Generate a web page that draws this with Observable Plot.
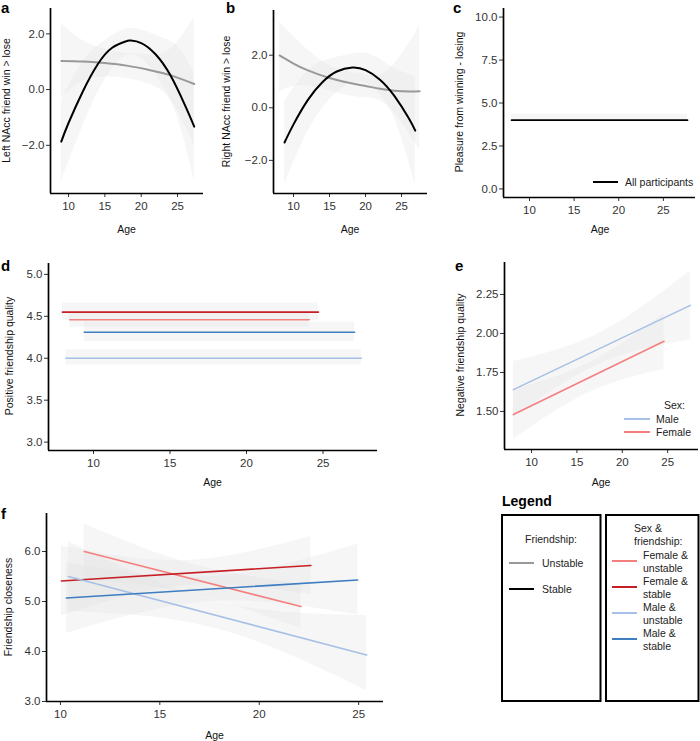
<!DOCTYPE html>
<html>
<head>
<meta charset="utf-8">
<script src="https://cdn.jsdelivr.net/npm/d3@7"></script>
<script src="https://cdn.jsdelivr.net/npm/@observablehq/plot@0.6"></script>
<style>
  html, body { margin: 0; padding: 0; background: #fff; }
  #fig { position: relative; width: 700px; height: 741px; overflow: hidden; background: #fff;
         font-family: 'Liberation Sans', Arial, Helvetica, sans-serif; }
</style>
</head>
<body>
<div id="fig"></div>
<script>
// ---------------- DATA ----------------
const xTicks = [10, 15, 20, 25];
const yTicksAB = [-2, 0, 2];
const yTicksC = [0, 2.5, 5, 7.5, 10];
const yTicksD = [3, 3.5, 4, 4.5, 5];
const yTicksE = [1.5, 1.75, 2, 2.25];
const yTicksF = [3, 4, 5, 6];

const friendshipNames = ["Unstable", "Stable"];
const friendshipColors = ["#999999", "#000000"];

// Panel a: Left NAcc friend win > lose
const ageA_stable = [9, 10, 12, 14, 16, 18, 18.5, 20, 22, 24, 26, 27.3];
const leftStable = [-1.87, -1.2, -0.05, 0.9, 1.5, 1.74, 1.76, 1.67, 1.26, 0.52, -0.55, -1.33];
const ageA_stableBand = [9, 12, 15, 18.5, 22, 25, 27.3];
const leftStableLo = [-3.3, -1.3, 0.35, 1.25, 0.55, -1.0, -3.3];
const leftStableHi = [-0.4, 1.0, 1.75, 2.2, 1.95, 1.55, 0.6];
const ageA_unstable = [9, 12, 15, 18, 21, 24, 27.3];
const leftUnstable = [1.03, 1.01, 0.95, 0.86, 0.71, 0.52, 0.2];
const ageA_unstableBand = [9, 12, 15, 18, 21, 24, 27.3];
const leftUnstableLo = [-0.3, 0.3, 0.45, 0.4, 0.2, -0.35, -2.0];
const leftUnstableHi = [2.37, 1.75, 1.45, 1.3, 1.25, 1.45, 2.6];

// Panel b: Right NAcc friend win > lose
const ageB_stable = [8.75, 10, 12, 14, 16, 18.2, 20, 22, 24, 26, 26.9];
const rightStable = [-1.32, -0.63, 0.3, 0.97, 1.38, 1.53, 1.43, 1.07, 0.45, -0.4, -0.87];
const ageB_stableBand = [8.75, 12, 15, 18.2, 21, 24, 26.9];
const rightStableLo = [-2.9, -0.9, 0.3, 0.95, 0.75, -0.4, -2.95];
const rightStableHi = [0.25, 1.4, 1.85, 2.05, 2.0, 1.5, 1.2];
const ageB_unstable = [8.05, 10, 12, 15, 18, 20, 22, 24, 26, 27.5];
const rightUnstable = [1.99, 1.68, 1.42, 1.13, 0.93, 0.83, 0.72, 0.65, 0.62, 0.63];
const ageB_unstableBand = [8.05, 11, 15, 19, 23, 27.5];
const rightUnstableLo = [0.6, 0.85, 0.65, 0.4, 0.1, -1.6];
const rightUnstableHi = [3.25, 2.45, 1.6, 1.3, 1.4, 3.1];

// Panel c: Pleasure from winning - losing
const ageC = [8.0, 27.7];
const pleasure = [4.0, 4.0];
const pleasureLo = [3.9, 3.9];
const pleasureHi = [4.35, 4.35];
const allLabel = "All participants";

// Groups (sex & friendship)
const groupNames = ["Female & unstable", "Female & stable", "Male & unstable", "Male & stable"];
const groupColors = ["#F3807F", "#C62026", "#A6C0E6", "#3D7DC0"];

// Panel d: Positive friendship quality (flat fits)
const posStart = [8.45, 7.97, 8.2, 9.4];
const posEnd = [24.1, 24.7, 27.5, 27.06];
const posValue = [4.46, 4.55, 4.00, 4.31];
const posLo = [4.37, 4.45, 3.92, 4.20];
const posHi = [4.56, 4.66, 4.10, 4.43];

// Panel e: Negative friendship quality by sex
const sexNames = ["Male", "Female"];
const sexColors = ["#A6C0E6", "#F3807F"];
const negMaleAge = [8.0, 27.5];
const negMale = [1.64, 2.18];
const negMaleBandAge = [8.0, 17.75, 27.5];
const negMaleLo = [1.46, 1.81, 1.96];
const negMaleHi = [1.82, 2.01, 2.40];
const negFemaleAge = [8.0, 24.6];
const negFemale = [1.48, 1.95];
const negFemaleBandAge = [8.0, 16.3, 24.6];
const negFemaleLo = [1.32, 1.62, 1.77];
const negFemaleHi = [1.64, 1.81, 2.13];

// Panel f: Friendship closeness by group
const closeStart = [11.2, 10.05, 10.4, 10.3];
const closeEnd = [22.1, 22.6, 25.4, 24.95];
const closeStartVal = [6.0, 5.41, 5.5, 5.07];
const closeEndVal = [4.9, 5.72, 3.93, 5.43];
const closeMidAge = [16.6, 16.3, 17.9, 17.6];
const closeLoStart = [5.45, 4.71, 4.8, 4.36];
const closeLoMid = [5.15, 5.32, 4.45, 5.0];
const closeLoEnd = [4.46, 5.14, 3.22, 4.73];
const closeHiStart = [6.55, 6.11, 6.2, 5.78];
const closeHiMid = [5.75, 5.82, 5.0, 5.5];
const closeHiEnd = [5.35, 6.3, 4.72, 6.15];

// ---------------- HELPERS ----------------
const FONT = "'Liberation Sans', Arial, Helvetica, sans-serif";
const BAND = "#e2e2e2", BAND_OP = 0.3;
const fig = document.getElementById("fig");
const pts = (xs, ys) => xs.map((x, i) => ({x, y: ys[i]}));
const band = (xs, lo, hi) => xs.map((x, i) => ({x, lo: lo[i], hi: hi[i]}));

function panel(frame, xd, yd, yTicks, yFmt, marks) {
  const [L, T, R, B] = frame;
  const mL = 48, mT = 8, mR = 6, mB = 24;
  const svg = Plot.plot({
    width: R - L + mL + mR, height: B - T + mT + mB,
    marginLeft: mL, marginTop: mT, marginRight: mR, marginBottom: mB,
    x: {domain: xd}, y: {domain: yd},
    style: {fontFamily: FONT, fontSize: "11.5px", color: "#333", background: "transparent", overflow: "visible"},
    marks: [
      ...marks,
      Plot.axisX({ticks: xTicks, tickSize: 4, tickPadding: 4, tickFormat: d3.format("d"), label: null}),
      Plot.axisY({ticks: yTicks, tickSize: 4, tickPadding: 2, tickFormat: d3.format(yFmt), label: null}),
      Plot.ruleX([xd[0]], {stroke: "#000", strokeWidth: 1.7}),
      Plot.ruleY([yd[0]], {stroke: "#000", strokeWidth: 1.7})
    ]
  });
  svg.style.position = "absolute";
  svg.style.left = (L - mL) + "px";
  svg.style.top = (T - mT) + "px";
  svg.style.maxWidth = "none";
  fig.appendChild(svg);
}

const area = (data) => Plot.areaY(data, {x: "x", y1: "lo", y2: "hi", fill: BAND, fillOpacity: BAND_OP, curve: "natural"});

// Panel a
panel([50, 8, 203, 193], [7.52, 28.57], [-3.73, 2.91], yTicksAB, ".1f", [
  area(band(ageA_unstableBand, leftUnstableLo, leftUnstableHi)),
  area(band(ageA_stableBand, leftStableLo, leftStableHi)),
  Plot.line(pts(ageA_unstable, leftUnstable), {x: "x", y: "y", stroke: friendshipColors[0], strokeWidth: 2, curve: "natural"}),
  Plot.line(pts(ageA_stable, leftStable), {x: "x", y: "y", stroke: friendshipColors[1], strokeWidth: 2, curve: "natural"})
]);

// Panel b
panel([273, 10, 427, 193], [7.22, 28.6], [-3.26, 3.70], yTicksAB, ".1f", [
  area(band(ageB_unstableBand, rightUnstableLo, rightUnstableHi)),
  area(band(ageB_stableBand, rightStableLo, rightStableHi)),
  Plot.line(pts(ageB_unstable, rightUnstable), {x: "x", y: "y", stroke: friendshipColors[0], strokeWidth: 2, curve: "natural"}),
  Plot.line(pts(ageB_stable, rightStable), {x: "x", y: "y", stroke: friendshipColors[1], strokeWidth: 2, curve: "natural"})
]);

// Panel c
panel([503, 8, 695, 197], [7.09, 28.6], [-0.5, 10.5], yTicksC, ".1f", [
  area(band(ageC, pleasureLo, pleasureHi)),
  Plot.line(pts(ageC, pleasure), {x: "x", y: "y", stroke: "#000", strokeWidth: 1.8})
]);

// Panel d
{
  const marks = [];
  groupNames.forEach((g, i) => {
    marks.push(area(band([posStart[i], posEnd[i]], [posLo[i], posLo[i]], [posHi[i], posHi[i]])));
  });
  groupNames.forEach((g, i) => {
    marks.push(Plot.line(pts([posStart[i], posEnd[i]], [posValue[i], posValue[i]]), {x: "x", y: "y", stroke: groupColors[i], strokeWidth: 1.6}));
  });
  panel([48, 263, 377, 450], [7.06, 28.56], [2.9, 5.13], yTicksD, ".1f", marks);
}

// Panel e
panel([504, 262, 698, 449], [7.02, 28.4], [1.256, 2.455], yTicksE, ".2f", [
  area(band(negMaleBandAge, negMaleLo, negMaleHi)),
  area(band(negFemaleBandAge, negFemaleLo, negFemaleHi)),
  Plot.line(pts(negMaleAge, negMale), {x: "x", y: "y", stroke: sexColors[0], strokeWidth: 1.6}),
  Plot.line(pts(negFemaleAge, negFemale), {x: "x", y: "y", stroke: sexColors[1], strokeWidth: 1.6})
]);

// Panel f
{
  const marks = [];
  groupNames.forEach((g, i) => {
    marks.push(area(band([closeStart[i], closeMidAge[i], closeEnd[i]],
      [closeLoStart[i], closeLoMid[i], closeLoEnd[i]], [closeHiStart[i], closeHiMid[i], closeHiEnd[i]])));
  });
  groupNames.forEach((g, i) => {
    marks.push(Plot.line(pts([closeStart[i], closeEnd[i]], [closeStartVal[i], closeEndVal[i]]), {x: "x", y: "y", stroke: groupColors[i], strokeWidth: 1.6}));
  });
  panel([46, 513, 383, 701], [9.3, 26.25], [3.0, 6.76], yTicksF, ".1f", marks);
}

// ---------------- TEXT OVERLAY ----------------
const ov = d3.select(fig).append("svg")
  .attr("width", 700).attr("height", 741)
  .style("position", "absolute").style("left", "0px").style("top", "0px")
  .style("font-family", FONT);

// panel letters
const letters = [["a", 1, 13], ["b", 226, 13], ["c", 453, 13], ["d", 1, 271], ["e", 455, 271], ["f", 1, 519]];
letters.forEach(([t, x, y]) => ov.append("text").attr("x", x).attr("y", y)
  .attr("font-size", 15).attr("font-weight", "bold").attr("fill", "#000").text(t));

// y titles
const yTitles = [
  ["Left NAcc friend win > lose", 6, 100.5],
  ["Right NAcc friend win > lose", 226, 101.5],
  ["Pleasure from winning - losing", 458.5, 102],
  ["Positive friendship quality", 9, 356],
  ["Negative friendship quality", 460, 355],
  ["Friendship closeness", 7.5, 607]
];
yTitles.forEach(([t, x, y]) => ov.append("text")
  .attr("transform", `translate(${x},${y}) rotate(-90)`)
  .attr("text-anchor", "middle").attr("dominant-baseline", "central")
  .attr("font-size", 10.5).attr("fill", "#111").text(t));

// x titles
const xTitles = [[126.5, 229], [350, 229], [600, 229], [212.5, 482], [601, 482], [214.5, 735]];
xTitles.forEach(([x, y]) => ov.append("text").attr("x", x).attr("y", y)
  .attr("text-anchor", "middle").attr("dominant-baseline", "central")
  .attr("font-size", 10.5).attr("fill", "#111").text("Age"));

function legendItem(x1, x2, y, color, lines, tx, lh) {
  ov.append("line").attr("x1", x1).attr("x2", x2).attr("y1", y).attr("y2", y)
    .attr("stroke", color).attr("stroke-width", 2);
  const n = lines.length;
  lines.forEach((l, k) => ov.append("text").attr("x", tx).attr("y", y + (k - (n - 1) / 2) * lh)
    .attr("dominant-baseline", "central").attr("font-size", 10.5).attr("fill", "#222").text(l));
}

// panel c legend
legendItem(593, 618, 182, "#000", [allLabel], 625, 13);

// panel e legend
ov.append("text").attr("x", 664).attr("y", 405).attr("dominant-baseline", "central")
  .attr("font-size", 10.5).attr("fill", "#222").text("Sex:");
legendItem(624, 650, 419, sexColors[0], [sexNames[0]], 656, 13);
legendItem(624, 650, 432, sexColors[1], [sexNames[1]], 656, 13);

// big legend
ov.append("text").attr("x", 502).attr("y", 506).attr("font-size", 14).attr("font-weight", "bold")
  .attr("fill", "#000").text("Legend");
ov.append("rect").attr("x", 502).attr("y", 515).attr("width", 98.5).attr("height", 186)
  .attr("fill", "none").attr("stroke", "#000").attr("stroke-width", 2);
ov.append("rect").attr("x", 606).attr("y", 515).attr("width", 92.5).attr("height", 186)
  .attr("fill", "none").attr("stroke", "#000").attr("stroke-width", 2);

ov.append("text").attr("x", 551).attr("y", 539).attr("text-anchor", "middle").attr("dominant-baseline", "central")
  .attr("font-size", 10.5).attr("fill", "#222").text("Friendship:");
friendshipNames.forEach((n, i) => legendItem(509, 534, [563, 589][i], friendshipColors[i], [n], 542, 13));

ov.append("text").attr("x", 634).attr("y", 528).attr("dominant-baseline", "central")
  .attr("font-size", 10.5).attr("fill", "#222").text("Sex &");
ov.append("text").attr("x", 634).attr("y", 541).attr("dominant-baseline", "central")
  .attr("font-size", 10.5).attr("fill", "#222").text("friendship:");
const gY = [561, 587, 613, 639];
groupNames.forEach((g, i) => {
  const parts = g.split(" & ");
  legendItem(612, 637, gY[i], groupColors[i], [parts[0] + " &", parts[1]], 643, 13);
});
</script>
</body>
</html>
